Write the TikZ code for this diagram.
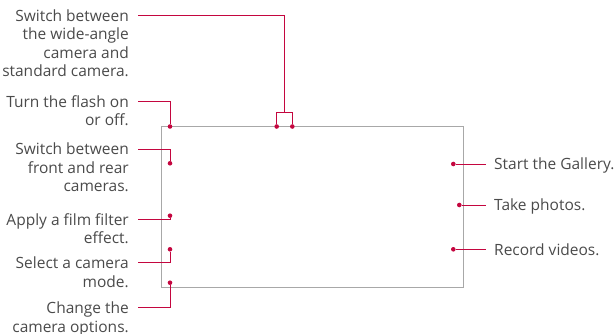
\documentclass[tikz,border=0pt]{standalone}
\usepackage{fontspec}
\setmainfont{Open Sans}
\usetikzlibrary{positioning,calc}
\definecolor{Crimson}{HTML}{C4063F}
\definecolor{Frame}{HTML}{A8A8A8}
\definecolor{Ink}{HTML}{4A4A4A}
\newcommand{\lines}[1]{\begin{tabular}[t]{@{}r@{}}#1\end{tabular}}

\begin{document}
\begin{tikzpicture}[x=1pt, y=-1pt, font=\fontsize{15.5}{18.3}\selectfont]
\tikzset{lbl/.style={text=Ink, inner sep=0pt, anchor=base east}, rlbl/.style={text=Ink, inner sep=0pt, anchor=base west}, lead/.style={draw=Crimson, line width=0.9pt}, dot/.style={circle, fill=Crimson, inner sep=0pt, minimum size=4.6pt}}
\useasboundingbox (0,0) rectangle (616,334);
% screen outline
\node[draw=Frame, line width=0.9pt, minimum width=302pt, minimum height=160pt, inner sep=0pt, anchor=north west] (screen) at (161,126.5) {};
% marker dots
\node[dot] (flash) at (170,126.5) {};
\node[dot] (wideL) at (276.7,126.5) {};
\node[dot] (wideR) at (292.3,126.5) {};
\node[dot] (swap) at (170,163.3) {};
\node[dot] (filter) at (170,215.7) {};
\node[dot] (mode) at (170,249.3) {};
\node[dot] (opts) at (170,282.7) {};
\node[dot] (gallery) at (453.3,164) {};
\node[dot] (shoot) at (459.3,205) {};
\node[dot] (video) at (453.3,249.3) {};
% leader ends
\coordinate (eWide) at (138,15.7);
\coordinate (bWide) at (284.3,112.7);
\coordinate (eFlash) at (138,101.7);
\coordinate (eSwap) at (138,149);
\coordinate (eFilter) at (138,219);
\coordinate (eMode) at (138,262.7);
\coordinate (eOpts) at (138,307.7);
\coordinate (eGallery) at (485.7,164);
\coordinate (eShoot) at (485.7,205);
\coordinate (eVideo) at (485.7,249.3);
% labels
\node[lbl] (tWide) at (129,21.7) {\lines{Switch between\\the wide-angle\\camera and\\standard camera.}};
\node[lbl] (tFlash) at (129,107.7) {\lines{Turn the flash on\\or off.}};
\node[lbl] (tSwap) at (129,155) {\lines{Switch between\\front and rear\\cameras.}};
\node[lbl] (tFilter) at (129,225) {\lines{Apply a film filter\\effect.}};
\node[lbl] (tMode) at (129,268.7) {\lines{Select a camera\\mode.}};
\node[lbl] (tOpts) at (129,313.7) {\lines{Change the\\camera options.}};
\node[rlbl] (tGallery) at (494,170) {Start the Gallery.};
\node[rlbl] (tShoot) at (494,211) {Take photos.};
\node[rlbl] (tVideo) at (494,255.3) {Record videos.};
% leaders
\draw[lead] (eWide) -| (bWide);
\draw[lead] (wideL) |- (bWide) -| (wideR);
\foreach \a/\b in {eFlash/flash,eSwap/swap,eFilter/filter,eMode/mode,eOpts/opts} \draw[lead] (\a) -| (\b);
\foreach \a/\b in {gallery/eGallery,shoot/eShoot,video/eVideo} \draw[lead] (\a) -- (\b);
\end{tikzpicture}
\end{document}
